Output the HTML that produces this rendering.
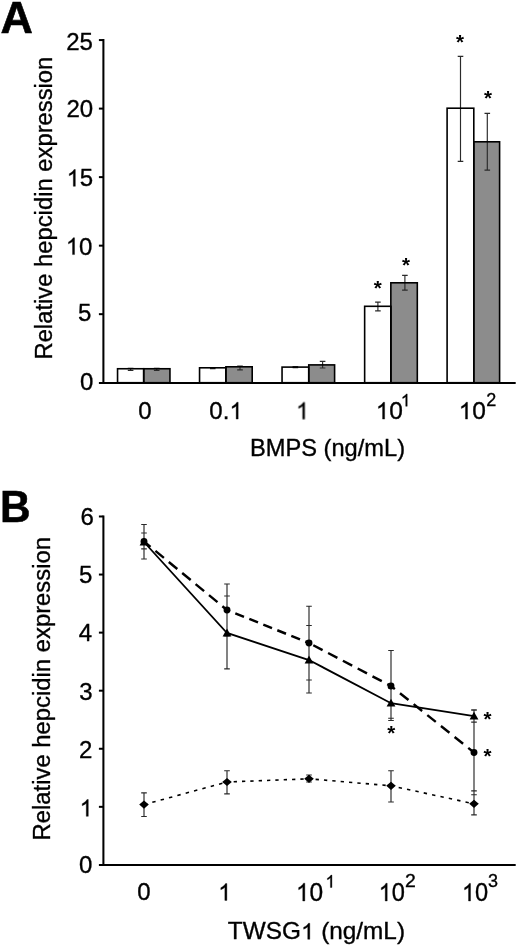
<!DOCTYPE html>
<html><head><meta charset="utf-8"><title>Figure</title>
<style>
html,body{margin:0;padding:0;background:#fff;}
svg{display:block;font-family:"Liberation Sans",sans-serif;fill:#000;will-change:transform;font-kerning:none;}
text{white-space:pre;}
</style></head>
<body>
<svg width="520" height="949" viewBox="0 0 520 949">
<rect x="0" y="0" width="520" height="949" fill="#fff"/>
<defs><filter id="soft" x="0" y="0" width="520" height="949" filterUnits="userSpaceOnUse"><feGaussianBlur stdDeviation="0.45"/></filter></defs>
<g filter="url(#soft)">
<text transform="translate(0.50,32.50) scale(1.0200,1.0000)" font-size="44" text-anchor="start" font-weight="bold" stroke="#000" stroke-width="0.6" >A</text>
<path d="M103.4,39.07499999999999 V382.7" stroke="#000" stroke-width="2.05" fill="none"/>
<path d="M98.9,382.9 H515.7" stroke="#000" stroke-width="2.05" fill="none"/>
<path d="M98.9,314.17 H103.4" stroke="#000" stroke-width="2" fill="none"/>
<path d="M98.9,245.65 H103.4" stroke="#000" stroke-width="2" fill="none"/>
<path d="M98.9,177.12 H103.4" stroke="#000" stroke-width="2" fill="none"/>
<path d="M98.9,108.60 H103.4" stroke="#000" stroke-width="2" fill="none"/>
<path d="M98.9,40.07 H103.4" stroke="#000" stroke-width="2" fill="none"/>
<text transform="translate(92.90,50.00) scale(0.9800,1.0000)" font-size="24.5" text-anchor="end" font-weight="normal" stroke="#000" stroke-width="0.35" >25</text>
<text transform="translate(93.20,116.53) scale(0.9800,1.0000)" font-size="24.5" text-anchor="end" font-weight="normal" stroke="#000" stroke-width="0.35" >20</text>
<g transform="translate(93.20,186.36) scale(24.0100,24.5000)" stroke="#000" stroke-width="0.01429" ><path d="M-0.7439,0.0000 H-0.8280 V-0.5361 Q-0.8584,-0.5071 -0.9077,-0.4781 Q-0.9570,-0.4492 -0.9963,-0.4347 V-0.5160 Q-0.9257,-0.5492 -0.8729,-0.5964 Q-0.8200,-0.6436 -0.7981,-0.6880 H-0.7439 Z"/><text x="-0.5562" y="0" font-size="1">5</text></g>
<g transform="translate(92.40,254.58) scale(24.0100,24.5000)" stroke="#000" stroke-width="0.01429" ><path d="M-0.7439,0.0000 H-0.8280 V-0.5361 Q-0.8584,-0.5071 -0.9077,-0.4781 Q-0.9570,-0.4492 -0.9963,-0.4347 V-0.5160 Q-0.9257,-0.5492 -0.8729,-0.5964 Q-0.8200,-0.6436 -0.7981,-0.6880 H-0.7439 Z"/><text x="-0.5562" y="0" font-size="1">0</text></g>
<text transform="translate(91.40,321.20) scale(0.9800,1.0000)" font-size="24.5" text-anchor="end" font-weight="normal" stroke="#000" stroke-width="0.35" >5</text>
<text transform="translate(93.40,390.43) scale(0.9800,1.0000)" font-size="24.5" text-anchor="end" font-weight="normal" stroke="#000" stroke-width="0.35" >0</text>
<rect x="117.55" y="368.75" width="26.15" height="13.95" fill="#fff"/>
<rect x="143.70" y="368.75" width="26.25" height="13.95" fill="#8c8c8c"/>
<rect x="199.55" y="367.80" width="26.35" height="14.90" fill="#fff"/>
<rect x="225.90" y="366.80" width="26.30" height="15.90" fill="#8c8c8c"/>
<rect x="282.05" y="367.10" width="26.70" height="15.60" fill="#fff"/>
<rect x="308.75" y="364.90" width="25.85" height="17.80" fill="#8c8c8c"/>
<rect x="364.65" y="306.30" width="26.20" height="76.40" fill="#fff"/>
<rect x="390.85" y="282.80" width="26.45" height="99.90" fill="#8c8c8c"/>
<rect x="447.10" y="108.20" width="26.70" height="274.50" fill="#fff"/>
<rect x="473.80" y="141.80" width="25.80" height="240.90" fill="#8c8c8c"/>
<path d="M130.6,368.2 V370.3 M127.8,368.2 H133.4 M127.8,370.3 H133.4" stroke="#2a2a2a" stroke-width="1.15" fill="none"/>
<path d="M156.7,368.2 V370.3 M153.89999999999998,368.2 H159.5 M153.89999999999998,370.3 H159.5" stroke="#2a2a2a" stroke-width="1.15" fill="none"/>
<path d="M212.75,367.5 V368.6 M209.95,367.5 H215.55 M209.95,368.6 H215.55" stroke="#2a2a2a" stroke-width="1.15" fill="none"/>
<path d="M240.0,366.1 V369.9 M237.2,366.1 H242.8 M237.2,369.9 H242.8" stroke="#2a2a2a" stroke-width="1.15" fill="none"/>
<path d="M295.4,366.6 V367.6 M292.59999999999997,366.6 H298.2 M292.59999999999997,367.6 H298.2" stroke="#2a2a2a" stroke-width="1.15" fill="none"/>
<path d="M322.6,361.4 V368.0 M319.8,361.4 H325.40000000000003 M319.8,368.0 H325.40000000000003" stroke="#2a2a2a" stroke-width="1.15" fill="none"/>
<path d="M377.9,302.1 V310.9 M375.09999999999997,302.1 H380.7 M375.09999999999997,310.9 H380.7" stroke="#2a2a2a" stroke-width="1.15" fill="none"/>
<path d="M404.9,275.4 V290.1 M402.09999999999997,275.4 H407.7 M402.09999999999997,290.1 H407.7" stroke="#2a2a2a" stroke-width="1.15" fill="none"/>
<path d="M460.5,56.3 V161.3 M457.7,56.3 H463.3 M457.7,161.3 H463.3" stroke="#2a2a2a" stroke-width="1.15" fill="none"/>
<path d="M487.3,113.3 V170.1 M484.5,113.3 H490.1 M484.5,170.1 H490.1" stroke="#2a2a2a" stroke-width="1.15" fill="none"/>
<rect x="117.55" y="368.75" width="26.15" height="13.95" fill="none" stroke="#000" stroke-width="1.6"/>
<rect x="143.70" y="368.75" width="26.25" height="13.95" fill="none" stroke="#000" stroke-width="1.6"/>
<rect x="199.55" y="367.80" width="26.35" height="14.90" fill="none" stroke="#000" stroke-width="1.6"/>
<rect x="225.90" y="366.80" width="26.30" height="15.90" fill="none" stroke="#000" stroke-width="1.6"/>
<rect x="282.05" y="367.10" width="26.70" height="15.60" fill="none" stroke="#000" stroke-width="1.6"/>
<rect x="308.75" y="364.90" width="25.85" height="17.80" fill="none" stroke="#000" stroke-width="1.6"/>
<rect x="364.65" y="306.30" width="26.20" height="76.40" fill="none" stroke="#000" stroke-width="1.6"/>
<rect x="390.85" y="282.80" width="26.45" height="99.90" fill="none" stroke="#000" stroke-width="1.6"/>
<rect x="447.10" y="108.20" width="26.70" height="274.50" fill="none" stroke="#000" stroke-width="1.6"/>
<rect x="473.80" y="141.80" width="25.80" height="240.90" fill="none" stroke="#000" stroke-width="1.6"/>
<text transform="translate(460.00,49.14) scale(1.0300,1.0000)" font-size="20" text-anchor="middle" font-weight="bold" stroke="#000" stroke-width="0" >*</text>
<text transform="translate(487.90,105.34) scale(1.0300,1.0000)" font-size="20" text-anchor="middle" font-weight="bold" stroke="#000" stroke-width="0" >*</text>
<text transform="translate(377.70,295.44) scale(1.0300,1.0000)" font-size="20" text-anchor="middle" font-weight="bold" stroke="#000" stroke-width="0" >*</text>
<text transform="translate(405.90,272.04) scale(1.0300,1.0000)" font-size="20" text-anchor="middle" font-weight="bold" stroke="#000" stroke-width="0" >*</text>
<text transform="translate(145.00,419.10) scale(0.9800,1.0000)" font-size="24.5" text-anchor="middle" font-weight="normal" stroke="#000" stroke-width="0.35" >0</text>
<g transform="translate(226.00,419.10) scale(24.0100,24.5000)" stroke="#000" stroke-width="0.01429" ><text x="-0.6951" y="0" font-size="1">0.</text><path d="M0.5074,0.0000 H0.4232 V-0.5361 Q0.3928,-0.5071 0.3435,-0.4781 Q0.2942,-0.4492 0.2550,-0.4347 V-0.5160 Q0.3255,-0.5492 0.3784,-0.5964 Q0.4312,-0.6436 0.4531,-0.6880 H0.5074 Z"/></g>
<g transform="translate(302.50,419.10) scale(24.0100,24.5000)" stroke="#000" stroke-width="0.01429" ><path d="M0.0904,0.0000 H0.0062 V-0.5361 Q-0.0241,-0.5071 -0.0735,-0.4781 Q-0.1228,-0.4492 -0.1620,-0.4347 V-0.5160 Q-0.0915,-0.5492 -0.0386,-0.5964 Q0.0142,-0.6436 0.0361,-0.6880 H0.0904 Z"/></g>
<g transform="translate(375.60,419.10) scale(24.5000,24.5000)" stroke="#000" stroke-width="0.01429" ><path d="M0.3684,0.0000 H0.2843 V-0.5361 Q0.2539,-0.5071 0.2046,-0.4781 Q0.1553,-0.4492 0.1160,-0.4347 V-0.5160 Q0.1866,-0.5492 0.2394,-0.5964 Q0.2923,-0.6436 0.3142,-0.6880 H0.3684 Z"/><text x="0.5562" y="0" font-size="1">0</text></g><g transform="translate(400.60,406.30) scale(18.0000,18.0000)" stroke="#000" stroke-width="0.01944" ><path d="M0.3684,0.0000 H0.2843 V-0.5361 Q0.2539,-0.5071 0.2046,-0.4781 Q0.1553,-0.4492 0.1160,-0.4347 V-0.5160 Q0.1866,-0.5492 0.2394,-0.5964 Q0.2923,-0.6436 0.3142,-0.6880 H0.3684 Z"/></g>
<g transform="translate(458.50,419.10) scale(24.5000,24.5000)" stroke="#000" stroke-width="0.01429" ><path d="M0.3684,0.0000 H0.2843 V-0.5361 Q0.2539,-0.5071 0.2046,-0.4781 Q0.1553,-0.4492 0.1160,-0.4347 V-0.5160 Q0.1866,-0.5492 0.2394,-0.5964 Q0.2923,-0.6436 0.3142,-0.6880 H0.3684 Z"/><text x="0.5562" y="0" font-size="1">0</text></g><text transform="translate(486.30,406.30) scale(1.0000,1.0000)" font-size="18" text-anchor="start" font-weight="normal" stroke="#000" stroke-width="0.35" >2</text>
<text transform="translate(327.50,455.80) scale(1.0160,1.0000)" font-size="23.3" text-anchor="middle" font-weight="normal" stroke="#000" stroke-width="0.35" >BMPS (ng/mL)</text>
<text transform="translate(52.10,208.10) rotate(-90) scale(0.9920,1.0000)" font-size="24" text-anchor="middle" font-weight="normal" stroke="#000" stroke-width="0.35" >Relative hepcidin expression</text>
<text transform="translate(0.10,522.10) scale(0.9550,1.0000)" font-size="44.3" text-anchor="start" font-weight="bold" stroke="#000" stroke-width="0.5" >B</text>
<path d="M103.4,515.48 V864.9" stroke="#000" stroke-width="2.05" fill="none"/>
<path d="M98.9,864.9 H515.7" stroke="#000" stroke-width="2.05" fill="none"/>
<path d="M98.9,806.83 H103.4" stroke="#000" stroke-width="2" fill="none"/>
<path d="M98.9,748.76 H103.4" stroke="#000" stroke-width="2" fill="none"/>
<path d="M98.9,690.69 H103.4" stroke="#000" stroke-width="2" fill="none"/>
<path d="M98.9,632.62 H103.4" stroke="#000" stroke-width="2" fill="none"/>
<path d="M98.9,574.55 H103.4" stroke="#000" stroke-width="2" fill="none"/>
<path d="M98.9,516.48 H103.4" stroke="#000" stroke-width="2" fill="none"/>
<text transform="translate(93.80,525.21) scale(0.9800,1.0000)" font-size="24.5" text-anchor="end" font-weight="normal" stroke="#000" stroke-width="0.35" >6</text>
<text transform="translate(92.30,582.98) scale(0.9800,1.0000)" font-size="24.5" text-anchor="end" font-weight="normal" stroke="#000" stroke-width="0.35" >5</text>
<text transform="translate(92.05,641.05) scale(0.9800,1.0000)" font-size="24.5" text-anchor="end" font-weight="normal" stroke="#000" stroke-width="0.35" >4</text>
<text transform="translate(92.60,699.62) scale(0.9800,1.0000)" font-size="24.5" text-anchor="end" font-weight="normal" stroke="#000" stroke-width="0.35" >3</text>
<text transform="translate(92.30,758.09) scale(0.9800,1.0000)" font-size="24.5" text-anchor="end" font-weight="normal" stroke="#000" stroke-width="0.35" >2</text>
<g transform="translate(92.80,816.36) scale(24.0100,24.5000)" stroke="#000" stroke-width="0.01429" ><path d="M-0.1877,0.0000 H-0.2718 V-0.5361 Q-0.3022,-0.5071 -0.3515,-0.4781 Q-0.4008,-0.4492 -0.4401,-0.4347 V-0.5160 Q-0.3695,-0.5492 -0.3167,-0.5964 Q-0.2639,-0.6436 -0.2419,-0.6880 H-0.1877 Z"/></g>
<text transform="translate(92.40,873.23) scale(0.9800,1.0000)" font-size="24.5" text-anchor="end" font-weight="normal" stroke="#000" stroke-width="0.35" >0</text>
<path d="M144,524.5 V559.0 M144,792.8 V816.5 M141.2,524.5 H146.8 M141.2,533.0 H146.8 M141.2,548.8 H146.8 M141.2,559.0 H146.8 M141.2,792.8 H146.8 M141.2,816.5 H146.8 M227,584.0 V668.8 M227,770.7 V793.9 M224.2,584.0 H229.8 M224.2,596.0 H229.8 M224.2,636.0 H229.8 M224.2,668.8 H229.8 M224.2,770.7 H229.8 M224.2,793.9 H229.8 M309,606.2 V693.0 M309,775.0 V782.0 M306.2,606.2 H311.8 M306.2,625.5 H311.8 M306.2,680.0 H311.8 M306.2,693.0 H311.8 M306.2,775.0 H311.8 M306.2,782.0 H311.8 M391,650.5 V720.5 M391,770.7 V802.0 M388.2,650.5 H393.8 M388.2,688.2 H393.8 M388.2,718.2 H393.8 M388.2,720.5 H393.8 M388.2,770.7 H393.8 M388.2,802.0 H393.8 M474,709.9 V814.9 M471.2,709.9 H476.8 M471.2,710.2 H476.8 M471.2,722.1 H476.8 M471.2,790.8 H476.8 M471.2,794.7 H476.8 M471.2,814.9 H476.8 " stroke="#2a2a2a" stroke-width="1.15" fill="none"/>
<polyline points="144.0,542.0 227.0,633.0 309.0,660.0 391.0,703.2 474.0,716.2" fill="none" stroke="#000" stroke-width="1.85"/>
<line x1="144.0" y1="541.5" x2="227.0" y2="610.0" stroke="#000" stroke-width="2.45" stroke-dasharray="11.02 6.35" stroke-dashoffset="2.59"/>
<line x1="227.0" y1="610.0" x2="309.0" y2="643.0" stroke="#000" stroke-width="2.45" stroke-dasharray="9.38 5.71" stroke-dashoffset="6.14"/>
<line x1="309.0" y1="643.0" x2="391.0" y2="686.0" stroke="#000" stroke-width="2.45" stroke-dasharray="10.50 6.21" stroke-dashoffset="11.86"/>
<line x1="391.0" y1="686.0" x2="474.0" y2="752.5" stroke="#000" stroke-width="2.45" stroke-dasharray="10.89 6.60" stroke-dashoffset="5.96"/>
<line x1="144.0" y1="804.6" x2="227.0" y2="782.0" stroke="#000" stroke-width="1.6" stroke-dasharray="3.42 5.23" stroke-dashoffset="0.05"/>
<line x1="227.0" y1="782.0" x2="309.0" y2="778.8" stroke="#000" stroke-width="1.6" stroke-dasharray="3.30 5.05" stroke-dashoffset="1.70"/>
<line x1="309.0" y1="778.8" x2="391.0" y2="785.8" stroke="#000" stroke-width="1.6" stroke-dasharray="3.31 5.07" stroke-dashoffset="1.76"/>
<line x1="391.0" y1="785.8" x2="474.0" y2="803.8" stroke="#000" stroke-width="1.6" stroke-dasharray="3.38 5.17" stroke-dashoffset="0.72"/>
<path d="M139.6,545.4 L148.4,545.4 L144.0,537.5 Z" fill="#000"/>
<path d="M222.6,636.4 L231.4,636.4 L227.0,628.5 Z" fill="#000"/>
<path d="M304.6,663.4 L313.4,663.4 L309.0,655.5 Z" fill="#000"/>
<path d="M386.6,706.6 L395.4,706.6 L391.0,698.7 Z" fill="#000"/>
<path d="M469.6,719.6 L478.4,719.6 L474.0,711.7 Z" fill="#000"/>
<circle cx="144.0" cy="541.5" r="3.45" fill="#000"/>
<circle cx="227.0" cy="610.0" r="3.45" fill="#000"/>
<circle cx="309.0" cy="643.0" r="3.45" fill="#000"/>
<circle cx="391.0" cy="686.0" r="3.45" fill="#000"/>
<circle cx="474.0" cy="752.5" r="3.45" fill="#000"/>
<path d="M139.2,804.6 L144.0,800.5 L148.8,804.6 L144.0,808.7 Z" fill="#000"/>
<path d="M222.2,782.0 L227.0,777.9 L231.8,782.0 L227.0,786.1 Z" fill="#000"/>
<path d="M304.2,778.8 L309.0,774.6999999999999 L313.8,778.8 L309.0,782.9 Z" fill="#000"/>
<path d="M386.2,785.8 L391.0,781.6999999999999 L395.8,785.8 L391.0,789.9 Z" fill="#000"/>
<path d="M469.2,803.8 L474.0,799.6999999999999 L478.8,803.8 L474.0,807.9 Z" fill="#000"/>
<text transform="translate(391.30,740.04) scale(1.0300,1.0000)" font-size="20" text-anchor="middle" font-weight="bold" stroke="#000" stroke-width="0" >*</text>
<text transform="translate(487.50,725.84) scale(1.0300,1.0000)" font-size="20" text-anchor="middle" font-weight="bold" stroke="#000" stroke-width="0" >*</text>
<text transform="translate(487.50,763.24) scale(1.0300,1.0000)" font-size="20" text-anchor="middle" font-weight="bold" stroke="#000" stroke-width="0" >*</text>
<text transform="translate(144.00,900.40) scale(0.9800,1.0000)" font-size="24.5" text-anchor="middle" font-weight="normal" stroke="#000" stroke-width="0.35" >0</text>
<g transform="translate(224.70,900.40) scale(24.0100,24.5000)" stroke="#000" stroke-width="0.01429" ><path d="M0.0904,0.0000 H0.0062 V-0.5361 Q-0.0241,-0.5071 -0.0735,-0.4781 Q-0.1228,-0.4492 -0.1620,-0.4347 V-0.5160 Q-0.0915,-0.5492 -0.0386,-0.5964 Q0.0142,-0.6436 0.0361,-0.6880 H0.0904 Z"/></g>
<g transform="translate(295.80,901.00) scale(24.5000,25.9700)" stroke="#000" stroke-width="0.01429" ><path d="M0.3684,0.0000 H0.2843 V-0.5361 Q0.2539,-0.5071 0.2046,-0.4781 Q0.1553,-0.4492 0.1160,-0.4347 V-0.5160 Q0.1866,-0.5492 0.2394,-0.5964 Q0.2923,-0.6436 0.3142,-0.6880 H0.3684 Z"/><text x="0.5562" y="0" font-size="1">0</text></g><g transform="translate(325.30,887.50) scale(18.0000,18.0000)" stroke="#000" stroke-width="0.01944" ><path d="M0.3684,0.0000 H0.2843 V-0.5361 Q0.2539,-0.5071 0.2046,-0.4781 Q0.1553,-0.4492 0.1160,-0.4347 V-0.5160 Q0.1866,-0.5492 0.2394,-0.5964 Q0.2923,-0.6436 0.3142,-0.6880 H0.3684 Z"/></g>
<g transform="translate(378.50,901.00) scale(23.6425,25.7250)" stroke="#000" stroke-width="0.01429" ><path d="M0.3684,0.0000 H0.2843 V-0.5361 Q0.2539,-0.5071 0.2046,-0.4781 Q0.1553,-0.4492 0.1160,-0.4347 V-0.5160 Q0.1866,-0.5492 0.2394,-0.5964 Q0.2923,-0.6436 0.3142,-0.6880 H0.3684 Z"/><text x="0.5562" y="0" font-size="1">0</text></g><text transform="translate(405.10,887.40) scale(1.0800,1.0000)" font-size="18" text-anchor="start" font-weight="normal" stroke="#000" stroke-width="0.35" >2</text>
<g transform="translate(461.80,901.00) scale(23.6425,25.6025)" stroke="#000" stroke-width="0.01429" ><path d="M0.3684,0.0000 H0.2843 V-0.5361 Q0.2539,-0.5071 0.2046,-0.4781 Q0.1553,-0.4492 0.1160,-0.4347 V-0.5160 Q0.1866,-0.5492 0.2394,-0.5964 Q0.2923,-0.6436 0.3142,-0.6880 H0.3684 Z"/><text x="0.5562" y="0" font-size="1">0</text></g><text transform="translate(488.10,886.50) scale(1.0000,1.0000)" font-size="18" text-anchor="start" font-weight="normal" stroke="#000" stroke-width="0.35" >3</text>
<g transform="translate(316.40,939.30) scale(24.3485,23.3000)" stroke="#000" stroke-width="0.01502" ><text x="-3.6394" y="0" font-size="1">TWSG</text><path d="M-0.2715,0.0000 H-0.3556 V-0.5361 Q-0.3860,-0.5071 -0.4353,-0.4781 Q-0.4846,-0.4492 -0.5238,-0.4347 V-0.5160 Q-0.4533,-0.5492 -0.4005,-0.5964 Q-0.3476,-0.6436 -0.3257,-0.6880 H-0.2715 Z"/><text x="-0.0837" y="0" font-size="1"> (ng/mL)</text></g>
<text transform="translate(50.00,688.70) rotate(-90) scale(0.9940,1.0000)" font-size="24" text-anchor="middle" font-weight="normal" stroke="#000" stroke-width="0.35" >Relative hepcidin expression</text>
</g>
</svg>
</body></html>
